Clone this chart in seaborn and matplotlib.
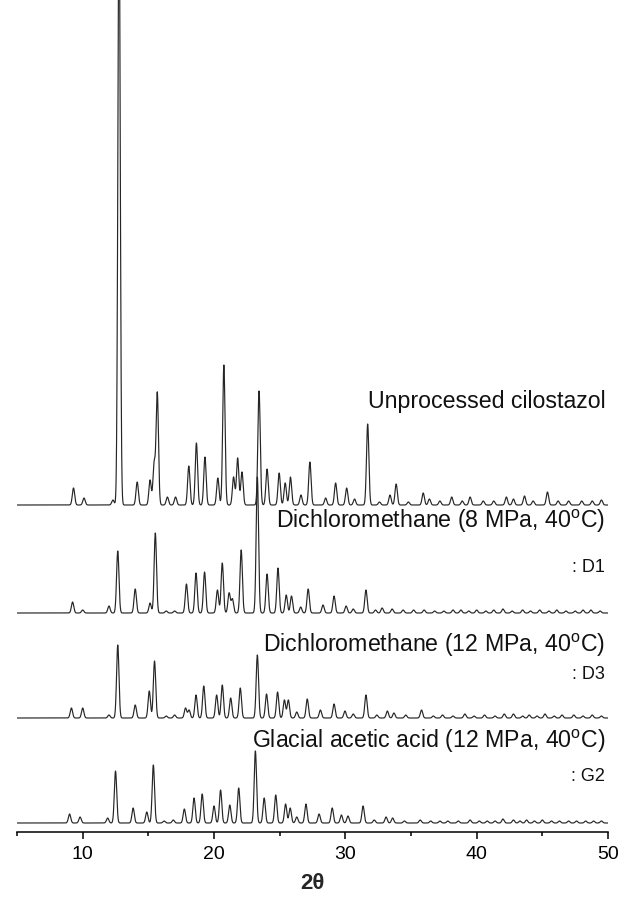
import numpy as np
import pandas as pd
import matplotlib
matplotlib.use('Agg')
import matplotlib.pyplot as plt
import seaborn as sns

sns.set_theme(style='ticks')
plt.rcParams['font.family'] = ['Liberation Sans', 'DejaVu Sans']
plt.rcParams['mathtext.fontset'] = 'custom'
plt.rcParams['mathtext.rm'] = 'Liberation Sans'

# Peak positions (2theta) and peak heights (a.u.)
cilo_pos = [9.3, 10.1, 12.3, 12.77, 14.15, 15.13, 15.44, 15.68, 16.45, 17.07, 18.08, 18.66,
            19.31, 20.29, 20.75, 21.49, 21.8, 22.13, 23.43, 24.04, 24.96, 25.42, 25.82,
            26.62, 27.3, 28.5, 29.26, 30.1, 30.7, 31.7, 32.6, 33.4, 33.87, 34.8, 35.93, 36.4,
            37.2, 38.1, 38.9, 39.5, 40.5, 41.3, 42.26, 42.8, 43.64, 44.3, 45.39, 46.2,
            47.0, 48.0, 48.8, 49.5]
cilo_int = [17, 7, 5, 600, 23, 25, 41, 112, 8, 8, 39, 62,
            48, 27, 140, 28, 47, 33, 114, 36, 32, 22, 28,
            10, 43, 7, 22, 17, 6, 81, 3, 10, 21, 3, 12, 6,
            4, 8, 4, 8, 4, 4, 8, 6, 9, 4, 13, 4,
            4, 4, 4, 5]

d1_pos = [9.23, 10.0, 12.0, 12.67, 14.0, 15.13, 15.53, 16.36, 17.0, 17.9, 18.63, 19.28,
          20.26, 20.63, 21.15, 21.4, 22.07, 23.3, 24.04, 24.87, 25.5, 25.9, 26.6, 27.17,
          28.3, 29.14, 30.06, 30.6, 31.57, 32.3, 32.8, 33.56, 34.4, 35.2, 36.0, 36.8, 37.5,
          38.2, 38.8, 39.4, 40.0, 40.7, 41.3, 42.0, 42.7, 43.5, 44.1, 44.8, 45.5, 46.1,
          46.8, 47.5, 48.1, 48.7, 49.4]
d1_int = [11, 3, 7, 62, 24, 10, 80, 2, 2, 29, 40, 41,
          23, 50, 20, 14, 63, 136, 39, 45, 18, 17, 6, 24,
          8, 17, 7, 4, 23, 3, 5, 4, 3, 3, 3, 2, 2,
          3, 3, 2, 3, 2, 3, 4, 2, 3, 2, 3, 2, 3,
          2, 2, 3, 3, 2]

d3_pos = [9.14, 10.0, 12.0, 12.67, 14.0, 15.07, 15.47, 16.36, 17.0, 17.83, 18.1, 18.63,
          19.22, 20.2, 20.63, 21.27, 22.0, 23.3, 24.0, 24.84, 25.36, 25.66, 26.3, 27.1, 28.1,
          29.14, 29.97, 30.6, 31.57, 32.4, 33.2, 33.7, 34.6, 35.8, 36.7, 37.4, 38.2, 39.1,
          39.8, 40.6, 41.4, 42.1, 42.8, 43.5, 44.0, 44.6, 45.2, 45.9, 46.5, 47.4, 48.1,
          48.8, 49.5]
d3_int = [10, 10, 3, 73, 13, 27, 57, 2, 3, 10, 8, 23,
          32, 23, 33, 20, 30, 63, 24, 26, 18, 18, 6, 19, 8,
          14, 7, 4, 23, 3, 7, 5, 3, 8, 2, 3, 2, 4,
          2, 3, 2, 4, 4, 2, 3, 2, 4, 2, 3, 3, 2,
          3, 2]

g2_pos = [9.0, 9.8, 11.9, 12.5, 13.84, 14.88, 15.38, 16.2, 16.9, 17.74, 18.48, 19.1,
          20.0, 20.5, 21.2, 21.88, 23.15, 23.82, 24.7, 25.45, 25.8, 26.3, 27.0, 28.0, 29.0,
          29.7, 30.2, 31.35, 32.2, 33.1, 33.6, 34.5, 35.7, 36.5, 37.2, 37.8, 38.6, 39.5,
          40.2, 40.8, 41.4, 42.0, 42.8, 43.3, 43.8, 44.4, 45.0, 45.7, 46.3, 47.0, 47.6,
          48.3, 48.9, 49.5]
g2_int = [9, 6, 5, 52, 15, 11, 58, 2, 3, 14, 25, 29,
          17, 33, 18, 35, 72, 25, 28, 19, 15, 6, 19, 9, 15,
          8, 7, 17, 3, 6, 5, 2, 3, 2, 2, 2, 2, 3,
          2, 2, 2, 4, 3, 2, 3, 2, 3, 2, 2, 2, 2,
          2, 2, 2]

sample_names = ['Unprocessed cilostazol', 'D1', 'D3', 'G2']
offsets = [318, 210, 105, 0]

label_main = ['Unprocessed cilostazol',
              r'Dichloromethane (8 MPa, 40$^{\mathrm{o}}$C)',
              r'Dichloromethane (12 MPa, 40$^{\mathrm{o}}$C)',
              r'Glacial acetic acid (12 MPa, 40$^{\mathrm{o}}$C)']
label_code = ['', ': D1', ': D3', ': G2']
label_y = [415, 295, 171, 75]
code_y = [None, 251, 144, 42]

peaks = [(cilo_pos, cilo_int), (d1_pos, d1_int), (d3_pos, d3_int), (g2_pos, g2_int)]

# build each pattern as a sum of narrow peak profiles on a 2theta grid
grid = np.arange(5, 50.0001, 0.01)
width = 0.09
frames = []
for name, (pos, inten), off in zip(sample_names, peaks, offsets):
    y = np.zeros_like(grid)
    for p, h in zip(pos, inten):
        y += h * np.exp(-0.5 * ((grid - p) / width) ** 2)
    frames.append(pd.DataFrame({'two_theta': grid, 'intensity': y + off, 'sample': name}))
df = pd.concat(frames, ignore_index=True)

fig = plt.figure(figsize=(6.33, 9.02), dpi=100)
ax = fig.add_axes([0.0269, 0.0776, 0.9336, 0.9224])
sns.lineplot(data=df, x='two_theta', y='intensity', hue='sample', palette=['#262626'] * 4,
             estimator=None, sort=False, legend=False, linewidth=0.85, ax=ax)

for txt, ty in zip(label_main, label_y):
    ax.text(49.8, ty, txt, ha='right', va='baseline', fontsize=16.7, color='#111111')
for txt, ty in zip(label_code, code_y):
    if txt:
        ax.text(49.8, ty, txt, ha='right', va='baseline', fontsize=13, color='#111111')

ax.set_xlim(5, 50)
ax.set_ylim(-9, 823)
ax.set_xticks([10, 20, 30, 40, 50])
ax.set_xticks([5, 15, 25, 35, 45], minor=True)
ax.set_yticks([])
ax.tick_params(axis='x', which='major', length=5, width=1.1, direction='out', labelsize=14,
               pad=5, colors='black')
ax.tick_params(axis='x', which='minor', length=2.8, width=1.1, direction='out', colors='black')
ax.set_xlabel('2θ', fontsize=16, fontweight='bold', labelpad=7)
ax.set_ylabel('')
sns.despine(ax=ax, left=True, top=True, right=True)
ax.spines['bottom'].set_linewidth(1.1)
ax.spines['bottom'].set_color('black')

fig.savefig('out.png', dpi=100)
